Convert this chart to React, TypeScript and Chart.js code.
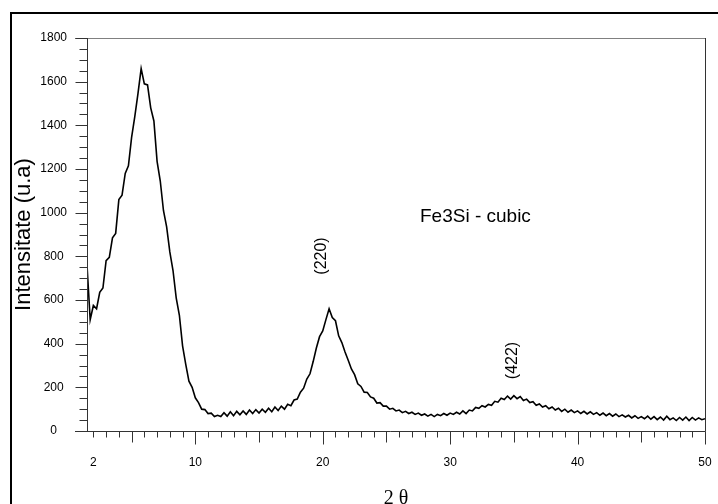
import React, { useEffect, useRef } from 'react';
import { Chart, registerables } from 'chart.js';

Chart.register(...registerables);

// 2θ sampling grid
const X_START = 1.5;
const X_STEP = 0.25;

// Intensity (2θ = 1.5 … 11.75)
const intensityLow = [
  760, 510, 575, 560, 635, 655, 780, 795, 885, 905,
  1060, 1080, 1180, 1215, 1345, 1440, 1545, 1660, 1590, 1585,
  1480, 1420, 1235, 1145, 1010, 935, 820, 735, 610, 530,
  390, 305, 228, 200, 152, 130, 100, 98, 80, 82,
  66, 72,
];
// 2θ = 12.0 … 30.0
const intensityMid = [
  66, 84, 68, 88, 70, 90, 74, 92, 76, 96,
  80, 98, 82, 100, 86, 104, 88, 110, 94, 114,
  100, 122, 116, 142, 146, 178, 196, 238, 262, 318,
  380, 432, 458, 510, 560, 520, 505, 436, 405, 362,
  324, 284, 258, 216, 204, 178, 176, 156, 150, 128,
  130, 114, 114, 100, 104, 92, 96, 84, 90, 80,
  86, 76, 82, 72, 78, 68, 76, 66, 76, 70,
  80, 72, 82,
];
// 2θ = 30.25 … 50.0
const intensityHigh = [
  76, 86, 78, 92, 80, 96, 92, 108, 104, 116,
  110, 122, 118, 136, 132, 150, 144, 160, 146, 162,
  148, 158, 140, 146, 130, 134, 118, 124, 110, 116,
  102, 110, 96, 104, 90, 100, 86, 96, 84, 92,
  80, 90, 78, 88, 76, 84, 72, 82, 70, 80,
  68, 78, 66, 74, 64, 72, 60, 70, 58, 66,
  56, 68, 54, 66, 52, 64, 50, 68, 52, 60,
  48, 62, 50, 64, 48, 62, 50, 60, 52, 56,
];

const xTickLabels = [2, 10, 20, 30, 40, 50];
const yTickLabels = [0, 200, 400, 600, 800, 1000, 1200, 1400, 1600, 1800];

const X_MIN = 1.5;
const X_MAX = 50;
const Y_MIN = 0;
const Y_MAX = 1800;
const Y_MINOR = 50;
const Y_MAJOR = 200;
const X_MINOR = 1;

const SANS = '"Liberation Sans", Arial, sans-serif';
const SERIF = '"Liberation Serif", "Times New Roman", serif';

const decorPlugin = {
  id: 'decor',
  afterDraw(chart: any) {
    const ctx = chart.ctx as CanvasRenderingContext2D;
    const xs = chart.scales.x;
    const ys = chart.scales.y;
    const { left, right, top, bottom } = chart.chartArea;
    ctx.save();

    // top border
    ctx.strokeStyle = '#808080';
    ctx.lineWidth = 1;
    ctx.beginPath();
    ctx.moveTo(left - 12, Math.round(top) + 0.5);
    ctx.lineTo(right, Math.round(top) + 0.5);
    ctx.stroke();

    // axes + right border
    ctx.strokeStyle = '#333333';
    ctx.beginPath();
    const ax = Math.round(left) + 0.5;
    const ay = Math.round(bottom) + 0.5;
    const rx = Math.round(right) + 0.5;
    ctx.moveTo(ax, top);
    ctx.lineTo(ax, ay);
    ctx.moveTo(left - 12, ay);
    ctx.lineTo(rx, ay);
    ctx.moveTo(rx, top);
    ctx.lineTo(rx, ay);

    // y ticks
    for (let v = Y_MIN; v <= Y_MAX; v += Y_MINOR) {
      const py = Math.round(ys.getPixelForValue(v)) + 0.5;
      const len = v % Y_MAJOR === 0 ? 12 : 8;
      ctx.moveTo(ax - len, py);
      ctx.lineTo(ax, py);
    }
    // x ticks
    for (let v = 2; v <= X_MAX; v += X_MINOR) {
      const px = Math.round(xs.getPixelForValue(v)) + 0.5;
      const len = v % 10 === 0 ? 13 : v % 5 === 0 ? 11 : 6;
      ctx.moveTo(px, ay);
      ctx.lineTo(px, ay + len);
    }
    ctx.stroke();

    // annotations
    ctx.fillStyle = '#000';
    ctx.font = `19px ${SANS}`;
    ctx.textAlign = 'left';
    ctx.textBaseline = 'alphabetic';
    ctx.fillText('Fe3Si - cubic', 420, 222);

    const vText = (t: string, cx: number, cy: number) => {
      ctx.save();
      ctx.translate(cx, cy);
      ctx.rotate(-Math.PI / 2);
      ctx.font = `16px ${SANS}`;
      ctx.textAlign = 'center';
      ctx.textBaseline = 'middle';
      ctx.fillText(t, 0, 0);
      ctx.restore();
    };
    vText('(220)', 322, 256);
    vText('(422)', 512.5, 360.5);

    // x-axis title
    ctx.font = `20px ${SERIF}`;
    ctx.textAlign = 'center';
    ctx.textBaseline = 'alphabetic';
    ctx.fillText('2 θ', (left + right) / 2, 504);

    // outer frame
    ctx.strokeStyle = '#000';
    ctx.lineWidth = 2;
    ctx.strokeRect(11, 13, 720, 510);
    ctx.restore();
  },
};

export default function App() {
  const ref = useRef<HTMLCanvasElement | null>(null);

  useEffect(() => {
    if (!ref.current) return;
    const all = [...intensityLow, ...intensityMid, ...intensityHigh];
    const points = all.map((y, i) => ({ x: X_START + i * X_STEP, y }));

    const chart = new Chart(ref.current, {
      type: 'line',
      data: {
        datasets: [
          {
            data: points,
            borderColor: '#000',
            borderWidth: 1.6,
            pointRadius: 0,
            tension: 0,
            fill: false,
          },
        ],
      },
      options: {
        animation: false,
        responsive: false,
        maintainAspectRatio: false,
        events: [],
        layout: { padding: { top: 38, right: 13, bottom: 0, left: 0 } },
        plugins: { legend: { display: false }, tooltip: { enabled: false } },
        scales: {
          x: {
            type: 'linear',
            min: X_MIN,
            max: X_MAX,
            afterBuildTicks: (s: any) => {
              s.ticks = xTickLabels.map((v) => ({ value: v }));
            },
            afterFit: (s: any) => {
              s.height = 73;
            },
            grid: { display: false, drawTicks: true, tickLength: 22 },
            border: { display: false },
            ticks: {
              padding: 2,
              color: '#000',
              autoSkip: false,
              maxRotation: 0,
              font: { family: SANS, size: 12 },
              callback: (v: any) => String(v),
            },
          },
          y: {
            type: 'linear',
            min: Y_MIN,
            max: Y_MAX,
            afterBuildTicks: (s: any) => {
              s.ticks = yTickLabels.map((v) => ({ value: v }));
            },
            afterFit: (s: any) => {
              s.width = 87;
            },
            grid: { display: false, drawTicks: true, tickLength: 18 },
            border: { display: false },
            ticks: {
              padding: 2,
              crossAlign: 'center',
              color: '#000',
              autoSkip: false,
              font: { family: SANS, size: 12 },
              callback: (v: any) => String(v),
            },
            title: {
              display: true,
              text: 'Intensitate (u.a)',
              color: '#000',
              font: { family: SANS, size: 22 },
              padding: { top: 11, bottom: 0 },
            },
          },
        },
      },
      plugins: [decorPlugin],
    });
    return () => chart.destroy();
  }, []);

  return (
    <div
      style={{
        position: 'absolute',
        left: 0,
        top: 0,
        width: 718,
        height: 504,
        overflow: 'hidden',
        background: '#fff',
      }}
    >
      <canvas ref={ref} width={718} height={504} style={{ display: 'block' }} />
    </div>
  );
}
